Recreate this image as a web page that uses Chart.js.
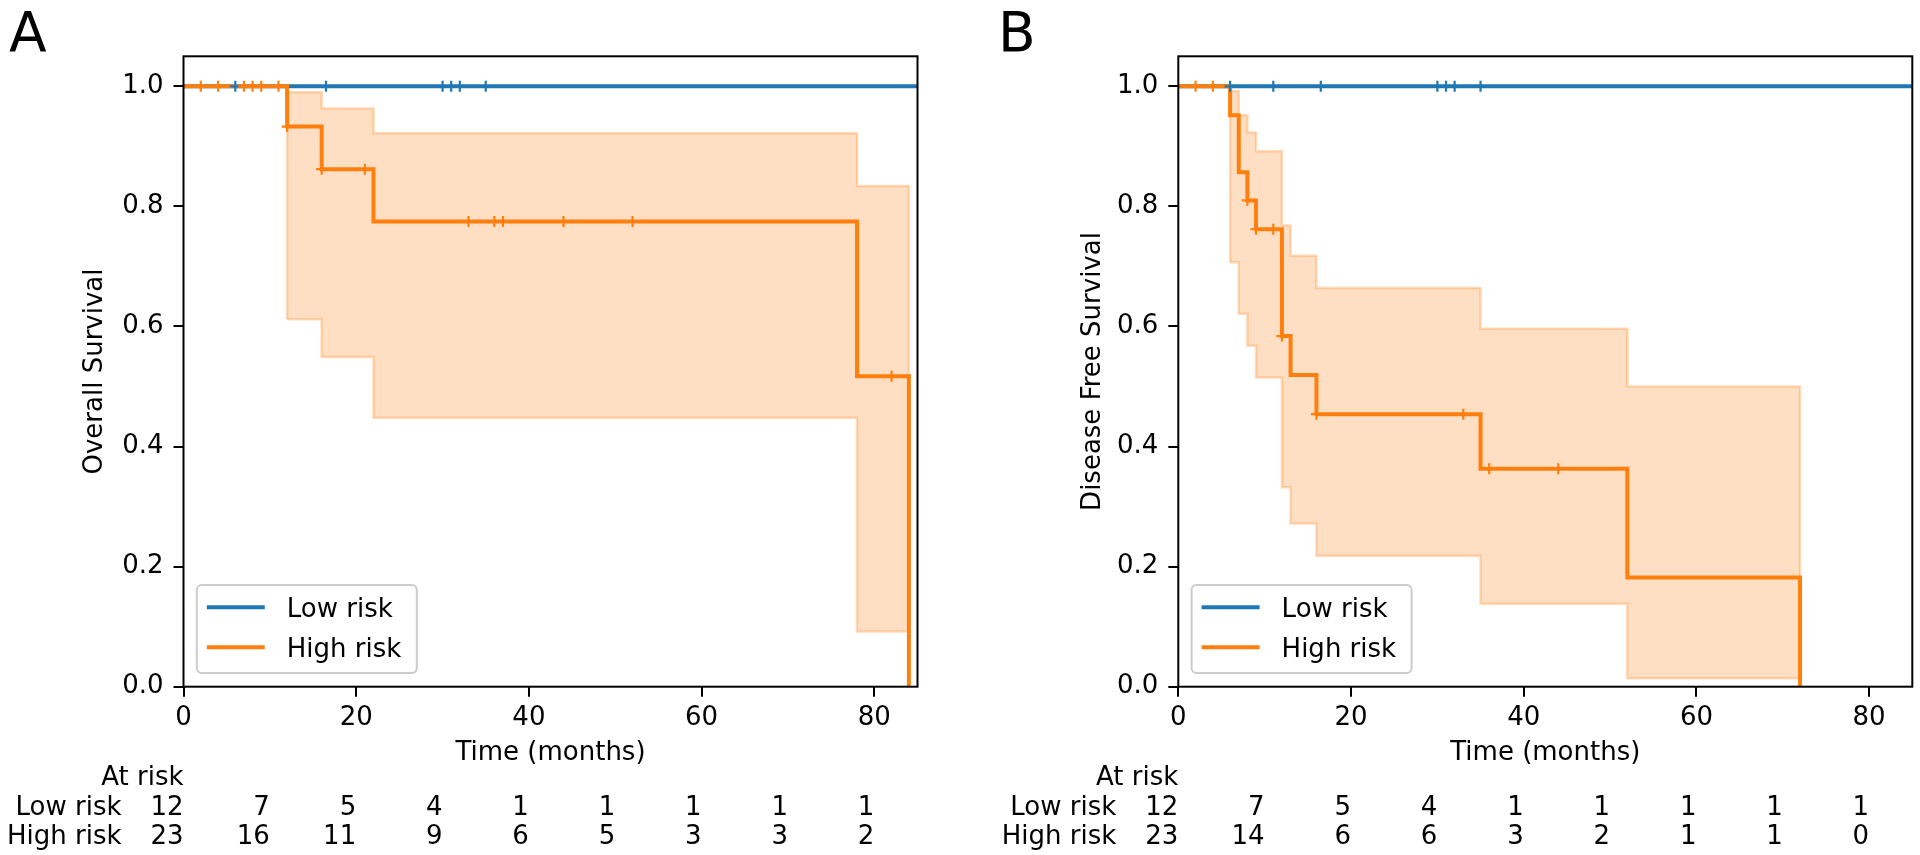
<!DOCTYPE html>
<html>
<head>
<meta charset="utf-8">
<title>Kaplan-Meier curves</title>
<script src="https://cdn.jsdelivr.net/npm/chart.js@4.4.1/dist/chart.umd.min.js"></script>
<style>
  html, body { margin: 0; padding: 0; background: #fff; }
  #wrap { position: relative; width: 1920px; height: 855px; overflow: hidden; }
  canvas { position: absolute; top: 0; }
</style>
</head>
<body>
<div id="wrap">
  <canvas id="chartA" width="960" height="855" style="left:0"></canvas>
  <canvas id="chartB" width="960" height="855" style="left:960px"></canvas>
</div>
<script>
// ---- data ----
const seriesNames = ['Low risk', 'High risk'];
const xTicks = [0, 20, 40, 60, 80];
const yTicks = [0, 0.2, 0.4, 0.6, 0.8, 1.0];
const riskTimes = [0, 10, 20, 30, 40, 50, 60, 70, 80];

// A: overall survival
const osLowTimes = [0, 85];
const osLowSurv = [1, 1];
const osLowCensorT = [6, 16.5, 30, 31, 32, 35];
const osHighTimes = [0, 12, 16, 22, 78, 84];
const osHighSurv = [1, 0.933, 0.862, 0.775, 0.517, 0];
const osHighCensorT = [2, 4, 7, 8, 9, 11, 12, 16, 21, 33, 36, 37, 44, 52, 82];
const osHighCensorS = [1, 1, 1, 1, 1, 1, 0.933, 0.862, 0.862, 0.775, 0.775, 0.775, 0.775, 0.775, 0.517];
const osCiTimes = [12, 16, 22, 78, 84];
const osCiUpper = [0.99, 0.963, 0.922, 0.834, 0.834];
const osCiLower = [0.612, 0.549, 0.448, 0.092, 0.092];
const osRiskLow = [12, 7, 5, 4, 1, 1, 1, 1, 1];
const osRiskHigh = [23, 16, 11, 9, 6, 5, 3, 3, 2];

// B: disease free survival
const dfsLowTimes = [0, 85];
const dfsLowSurv = [1, 1];
const dfsLowCensorT = [6, 11, 16.5, 30, 31, 32, 35];
const dfsHighTimes = [0, 6, 7, 8, 9, 12, 13, 16, 35, 52, 72];
const dfsHighSurv = [1, 0.952, 0.857, 0.81, 0.762, 0.584, 0.519, 0.454, 0.363, 0.182, 0];
const dfsHighCensorT = [2, 4, 8, 9, 11, 12, 16, 33, 36, 44];
const dfsHighCensorS = [1, 1, 0.81, 0.762, 0.762, 0.584, 0.454, 0.454, 0.363, 0.363];
const dfsCiTimes = [6, 7, 8, 9, 12, 13, 16, 35, 52, 72];
const dfsCiUpper = [0.992, 0.952, 0.923, 0.892, 0.768, 0.718, 0.664, 0.596, 0.5, 0.5];
const dfsCiLower = [0.707, 0.621, 0.568, 0.515, 0.332, 0.272, 0.218, 0.138, 0.014, 0.014];
const dfsRiskLow = [12, 7, 5, 4, 1, 1, 1, 1, 1];
const dfsRiskHigh = [23, 14, 6, 6, 3, 2, 1, 1, 0];

const BLUE = '#1f77b4';
const ORANGE = '#ff7f0e';
const FONT = 'DejaVu Sans';
Chart.defaults.font.family = FONT;
Chart.defaults.color = '#000';

const pts = (ts, ys) => ts.map((t, i) => ({x: t, y: ys[i]}));

// frame, legend box, at-risk table and panel letter
const decorations = {
  id: 'decorations',
  afterDatasetsDraw(chart) {
    const {ctx, chartArea: a} = chart;
    const o = chart.options.plugins.decorations;
    ctx.save();
    // legend
    const lx = a.left + 13.3, ly = 585, lw = 220, lh = 88, r = 5;
    ctx.beginPath();
    ctx.roundRect(lx, ly, lw, lh, r);
    ctx.fillStyle = 'rgba(255,255,255,0.8)';
    ctx.fill();
    ctx.strokeStyle = '#cccccc';
    ctx.lineWidth = 2;
    ctx.stroke();
    [[BLUE, seriesNames[0], 607.3], [ORANGE, seriesNames[1], 647.3]].forEach(([c, name, y]) => {
      ctx.beginPath();
      ctx.moveTo(lx + 10, y);
      ctx.lineTo(lx + 68, y);
      ctx.strokeStyle = c;
      ctx.lineWidth = 4;
      ctx.stroke();
      ctx.fillStyle = '#000';
      ctx.font = '26px "' + FONT + '"';
      ctx.textAlign = 'left';
      ctx.textBaseline = 'alphabetic';
      ctx.fillText(name, lx + 90, y + 9.5);
    });
    ctx.restore();
  },
  afterDraw(chart) {
    const {ctx, chartArea: a, scales: {x}} = chart;
    const o = chart.options.plugins.decorations;
    ctx.save();
    ctx.strokeStyle = '#000';
    ctx.lineWidth = 2;
    ctx.strokeRect(a.left, a.top, a.right - a.left, a.bottom - a.top);
    ctx.fillStyle = '#000';
    ctx.font = '26px "' + FONT + '"';
    ctx.textBaseline = 'alphabetic';
    ctx.textAlign = 'right';
    const x0 = x.getPixelForValue(0);
    ctx.fillText('At risk', x0, 784.5);
    [[seriesNames[0], o.low, 814.5], [seriesNames[1], o.high, 843.5]].forEach(([name, vals, y]) => {
      ctx.fillText(name, x0 - 62, y);
      vals.forEach((v, i) => ctx.fillText(String(v), x.getPixelForValue(riskTimes[i]), y));
    });
    ctx.textAlign = 'left';
    ctx.font = '55px "' + FONT + '"';
    ctx.fillText(o.letter, o.letterX, 51);
    ctx.restore();
  }
};

function makeChart(id, cfg) {
  const upperPts = [{x: cfg.ciT[0], y: cfg.ciL[0]}].concat(pts(cfg.ciT, cfg.ciU),
    [{x: cfg.ciT[cfg.ciT.length - 1], y: cfg.ciL[cfg.ciL.length - 1]}]);
  return new Chart(document.getElementById(id), {
    type: 'line',
    data: {
      datasets: [
        {label: 'high censor', data: pts(cfg.hcT, cfg.hcS), showLine: false,
         pointStyle: 'cross', pointRadius: 5.5, pointBorderWidth: 2.2,
         pointBorderColor: ORANGE, pointBackgroundColor: ORANGE},
        {label: 'low censor', data: cfg.lcT.map(t => ({x: t, y: 1})), showLine: false,
         pointStyle: 'cross', pointRadius: 5.5, pointBorderWidth: 2.2,
         pointBorderColor: BLUE, pointBackgroundColor: BLUE},
        {label: seriesNames[1], data: pts(cfg.hT, cfg.hS), stepped: 'before',
         borderColor: ORANGE, borderWidth: 4, pointRadius: 0, fill: false},
        {label: seriesNames[0], data: pts(cfg.lT, cfg.lS), stepped: 'before',
         borderColor: BLUE, borderWidth: 4, pointRadius: 0, fill: false},
        {label: 'ci upper', data: upperPts, stepped: 'before',
         borderColor: 'rgba(255,127,14,0.28)', borderWidth: 2.5, pointRadius: 0,
         fill: {target: '+1'}, backgroundColor: 'rgba(255,127,14,0.25)'},
        {label: 'ci lower', data: pts(cfg.ciT, cfg.ciL), stepped: 'before',
         borderColor: 'rgba(255,127,14,0.28)', borderWidth: 2.5, pointRadius: 0, fill: false}
      ]
    },
    options: {
      responsive: false,
      animation: false,
      devicePixelRatio: 1,
      layout: {padding: {top: 56.3, right: cfg.padRight, left: 0, bottom: 0}},
      scales: {
        x: {
          type: 'linear', min: 0, max: 85,
          afterFit: s => { s.height = 168.3; },
          afterBuildTicks: s => { s.ticks = xTicks.map(v => ({value: v})); },
          border: {display: false},
          grid: {drawOnChartArea: false, drawTicks: true, tickLength: 10, color: '#000', lineWidth: 2},
          ticks: {font: {size: 26}, padding: 5.7, maxRotation: 0, callback: v => String(v)},
          title: {display: true, text: 'Time (months)', font: {size: 26}, padding: {top: 0, bottom: 86.4}}
        },
        y: {
          type: 'linear', min: 0, max: 1.05,
          afterFit: s => { s.width = cfg.yWidth; },
          afterBuildTicks: s => { s.ticks = yTicks.map(v => ({value: v})); },
          border: {display: false},
          grid: {drawOnChartArea: false, drawTicks: true, tickLength: 10, color: '#000', lineWidth: 2},
          ticks: {font: {size: 26}, padding: 10, callback: v => v.toFixed(1)},
          title: {display: true, text: cfg.yTitle, font: {size: 26}, padding: {top: cfg.yTitlePad, bottom: 0}}
        }
      },
      plugins: {
        legend: {display: false},
        tooltip: {enabled: false},
        decorations: {low: cfg.riskLow, high: cfg.riskHigh, letter: cfg.letter, letterX: cfg.letterX}
      }
    },
    plugins: [decorations]
  });
}

makeChart('chartA', {
  lT: osLowTimes, lS: osLowSurv, lcT: osLowCensorT,
  hT: osHighTimes, hS: osHighSurv, hcT: osHighCensorT, hcS: osHighCensorS,
  ciT: osCiTimes, ciU: osCiUpper, ciL: osCiLower,
  riskLow: osRiskLow, riskHigh: osRiskHigh,
  yTitle: 'Overall Survival', yWidth: 183.5, yTitlePad: 79.4, padRight: 42.5,
  letter: 'A', letterX: 9
});

makeChart('chartB', {
  lT: dfsLowTimes, lS: dfsLowSurv, lcT: dfsLowCensorT,
  hT: dfsHighTimes, hS: dfsHighSurv, hcT: dfsHighCensorT, hcS: dfsHighCensorS,
  ciT: dfsCiTimes, ciU: dfsCiUpper, ciL: dfsCiLower,
  riskLow: dfsRiskLow, riskHigh: dfsRiskHigh,
  yTitle: 'Disease Free Survival', yWidth: 218.3, yTitlePad: 117.9, padRight: 7.7,
  letter: 'B', letterX: 38
});
</script>
</body>
</html>
